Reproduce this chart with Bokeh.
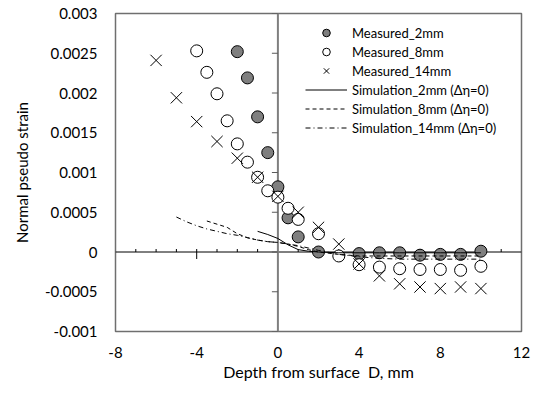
import numpy as np
from bokeh.plotting import figure
from bokeh.models import (Range1d, FixedTicker, CustomJSTickFormatter, Span, Legend,
                          LegendItem)
from bokeh.embed import file_html
from bokeh.resources import INLINE

# ---------------- data ----------------
m2_x = [-2, -1.5, -1, -0.5, 0, 0.5, 1, 2, 4, 5, 6, 7, 8, 9, 10]
m2_y = [0.00252, 0.00219, 0.00170, 0.00125, 0.00082, 0.00043, 0.00019, 0.0000,
        -0.00002, -0.00001, -0.00001, -0.00004, -0.00003, -0.00003, 0.00001]

m8_x = [-4, -3.5, -3, -2.5, -2, -1.5, -1, -0.5, 0, 0.5, 1, 2, 3, 4, 5, 6, 7, 8, 9, 10]
m8_y = [0.00253, 0.00226, 0.00199, 0.00165, 0.00136, 0.00113, 0.00094, 0.00077, 0.00069,
        0.00055, 0.00041, 0.00023, -0.00005, -0.00016, -0.00019, -0.00021, -0.00022,
        -0.00022, -0.00023, -0.00018]

m14_x = [-6, -5, -4, -3, -2, -1, 0, 1, 2, 3, 4, 5, 6, 7, 8, 9, 10]
m14_y = [0.00241, 0.00194, 0.00164, 0.00139, 0.00118, 0.00094, 0.00070, 0.00050, 0.00031,
         0.00010, -0.00015, -0.00030, -0.00040, -0.00044, -0.00046, -0.00044, -0.00046]

s2_x = [-1, -0.5, 0, 0.5, 1, 1.5, 2, 3, 4, 5, 6, 7, 8, 9, 10]
s2_y = [0.00026, 0.00022, 0.00017, 0.00009, 0.00003, 0.00001, 0.0, -0.00001, -0.00001,
        -0.00001, -0.00001, -0.00001, -0.00001, -0.00001, -0.00001]

s8_x = [-3.5, -3, -2.5, -2, -1.5, -1, -0.5, 0, 0.5, 1, 1.5, 2, 3, 4, 5, 6, 7, 8, 9, 10]
s8_y = [0.00039, 0.00035, 0.00031, 0.00023, 0.00018, 0.00015, 0.00013, 0.00012, 0.00010,
        0.00007, 0.00003, 0.0, -0.00003, -0.00005, -0.00005, -0.00005, -0.00005, -0.00005,
        -0.00005, -0.00005]

s14_x = [-5, -4.5, -4, -3.5, -3, -2.5, -2, -1.5, -1, -0.5, 0, 0.5, 1, 1.5, 2, 3, 4, 5, 6,
         7, 8, 9, 10]
s14_y = [0.00044, 0.00038, 0.00033, 0.00029, 0.00026, 0.00023, 0.00021, 0.00018, 0.00015,
         0.00013, 0.00012, 0.00010, 0.00008, 0.00005, 0.00002, -0.00003, -0.00006, -0.00008,
         -0.00009, -0.00009, -0.00009, -0.00009, -0.00009]

x_ticks = [-8, -4, 0, 4, 8, 12]
x_minor = [-7, -6, -5, -3, -2, -1, 1, 2, 3, 5, 6, 7, 9, 10, 11]
y_ticks = [-0.001, -0.0005, 0, 0.0005, 0.001, 0.0015, 0.002, 0.0025, 0.003]

labels = ["Measured_2mm", "Measured_8mm", "Measured_14mm",
          "Simulation_2mm (\u0394\u03b7=0)", "Simulation_8mm (\u0394\u03b7=0)",
          "Simulation_14mm (\u0394\u03b7=0)"]
x_title = "Depth from surface \u00a0D, mm"
y_title = "Normal pseudo strain"

# ---------------- figure ----------------
FONT = "Lato"
X0, X1 = -8, 12
Y0, Y1 = -0.001, 0.003
FW, FH = 406, 318

p = figure(frame_width=FW, frame_height=FH, output_backend="svg", toolbar_location=None,
           x_range=Range1d(X0, X1), y_range=Range1d(Y0, Y1),
           min_border_left=115, min_border_right=10, min_border_top=13, min_border_bottom=60)
p.xgrid.visible = False
p.ygrid.visible = False
p.outline_line_color = "#6f6f6f"
p.outline_line_width = 1.5
p.background_fill_color = "white"
p.border_fill_color = "white"

px_x = FW / (X1 - X0)
px_y = FH / (Y1 - Y0)

# axes: labels at the frame edges
for ax in (p.xaxis[0], p.yaxis[0]):
    ax.axis_line_color = None
    ax.major_tick_line_color = None
    ax.minor_tick_line_color = None
    ax.major_tick_out = 0
    ax.major_tick_in = 0
    ax.major_label_text_font = FONT
    ax.major_label_text_font_size = "15px"
    ax.major_label_text_color = "black"
    ax.axis_label_text_font = FONT
    ax.axis_label_text_font_style = "normal"
    ax.axis_label_text_color = "black"
    ax.formatter = CustomJSTickFormatter(code="return tick.toString();")
p.xaxis.ticker = FixedTicker(ticks=x_ticks)
p.xaxis.major_label_standoff = 15
p.xaxis.axis_label = x_title
p.xaxis.axis_label_text_font_size = "16px"
p.xaxis.axis_label_standoff = 1
p.yaxis.ticker = FixedTicker(ticks=y_ticks)
p.yaxis.major_label_standoff = 18
p.yaxis.axis_label = y_title
p.yaxis.axis_label_text_font_size = "15px"
p.yaxis.axis_label_standoff = 11

# crossing axes
p.add_layout(Span(location=0, dimension="width", line_color="black", line_width=1,
                  level="underlay"))
p.add_layout(Span(location=0, dimension="height", line_color="#7f7f7f", line_width=2,
                  level="underlay"))
# tick marks on the crossing axes
p.segment(x0=x_minor, y0=[0] * len(x_minor), x1=x_minor, y1=[3 / px_y] * len(x_minor),
          line_color="black", line_width=1)
xm = [t for t in x_ticks if t not in (X0, 0, X1)]
p.segment(x0=xm, y0=[3 / px_y] * len(xm), x1=xm, y1=[-7 / px_y] * len(xm),
          line_color="black", line_width=1)
p.segment(x0=[0] * len(y_ticks), y0=y_ticks, x1=[-6 / px_x] * len(y_ticks), y1=y_ticks,
          line_color="#5a5a5a", line_width=1)

# series
r_m2 = p.scatter(m2_x, m2_y, marker="circle", size=12, fill_color="#7f7f7f",
                 line_color="black", line_width=1)
r_m8 = p.scatter(m8_x, m8_y, marker="circle", size=12, fill_color="white",
                 line_color="black", line_width=1)
r_m14 = p.scatter(m14_x, m14_y, marker="x", size=16, line_color="black", line_width=1)
r_s2 = p.line(s2_x, s2_y, line_color="black", line_width=1)
r_s8 = p.line(s8_x, s8_y, line_color="black", line_width=1, line_dash="4 3")
r_s14 = p.line(s14_x, s14_y, line_color="black", line_width=1, line_dash="5 3 1 3")

legend = Legend(items=[LegendItem(label=l, renderers=[r]) for l, r in
                       zip(labels, [r_m2, r_m8, r_m14, r_s2, r_s8, r_s14])],
                location=(190, 194), glyph_width=42, glyph_height=19, label_height=19,
                spacing=0, padding=0, margin=0, label_standoff=5,
                border_line_color=None, background_fill_alpha=0,
                label_text_font=FONT, label_text_font_size="13px",
                label_text_color="black")
p.add_layout(legend)

open("out.html", "w").write(file_html(p, INLINE))
